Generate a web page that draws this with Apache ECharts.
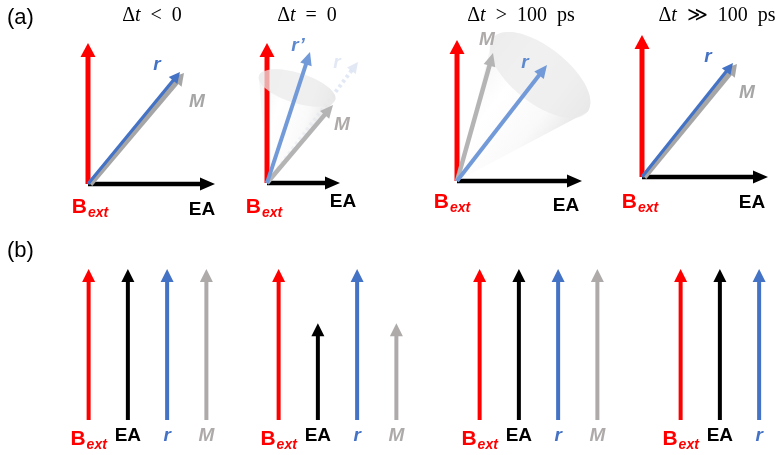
<!DOCTYPE html>
<html><head><meta charset="utf-8">
<script src="https://cdn.jsdelivr.net/npm/echarts@6/dist/echarts.min.js"></script>
<style>html,body{margin:0;padding:0;background:#fff}#c{width:777px;height:455px}</style>
</head><body><div id="c"></div>
<script>
// ---------------- data ----------------
// (a) vectors (x, y) in drawing units, one entry per panel
const panelTitles = ['Δt < 0', 'Δt = 0', 'Δt > 100 ps', 'Δt ≫ 100 ps'];
const bextVectors = [[0, 141], [0, 140], [0, 141], [0, 142]];
const eaVectors   = [[127, 0], [73, 0], [125, 0], [126, 0]];
const rVectors    = [[92, 112], [43, 131], [90, 116], [91, 114]];
const mVectors    = [[94, 111], [66, 78], [36, 128], [93, 113]];
const rInitialVectors = [null, [91, 121], null, null];
const coneAxes    = [null, [30, 95], [83, 106], null];
const coneRadii   = [null, [40, 15], [60, 28], null];
const rLabels     = ['r', 'r’', 'r', 'r'];

// (b) relative lengths of the projected arrows, one entry per group
const quantities  = ['Bext', 'EA', 'r', 'M'];
const bextLengths = [1, 1, 1, 1];
const eaLengths   = [1, 0.64, 1, 1];
const rLengths    = [1, 1, 1, 1];
const mLengths    = [1, 0.64, 1, 1];

// ---------------- layout & style ----------------
const FONT = '"Liberation Sans", Arial, sans-serif';
const SERIF = '"Liberation Serif", "DejaVu Serif", serif';
const RED = '#ff0000', BLACK = '#000000', BLUE = '#4472c4', GREY = '#a6a6a6', GREYB = '#aeaaaa';
const panelOrigins = [[88, 184], [267, 183], [457, 181], [642, 177]];
const mStartShift = [[2, 0], [0, 0], [0, 0], [2, 0]];
const titleCenters = [[152, 16], [307, 16], [521, 16], [717, 16]];
const labelOff = [
  { r: [-23, -7], m: [13, 29], bext: [2, 23], ea: [-13, 26] },
  { r: [-12, -6], m: [9, 20], bext: [-3, 24], ea: [3, 19], r0: [-21, 1] },
  { r: [-22, -2], m: [-6, -13], bext: [-5, 21], ea: [-16, 25] },
  { r: [-25, -6], m: [10, 29], bext: [-2, 25], ea: [-16, 26] }
];
const bGroupLeft = [69, 259, 460, 661];

const K = { ea: 0, bext: 1, r: 2, m: 3, r0: 4, body: 5, top: 6 };

function richSet(key) {
  const s = (c, size, bold, italic, extra) => Object.assign({ [key]: c, fontSize: size,
    fontWeight: bold ? 'bold' : 'normal', fontStyle: italic ? 'italic' : 'normal', fontFamily: FONT }, extra || {});
  return {
    b:  s(RED, 21, true, false),
    bs: s(RED, 14, true, true, { padding: [12, 0, 0, 1] }),
    ea: s(BLACK, 19, true, false),
    r:  s(BLUE, 19, true, true),
    rs: s('#5f89cf', 19, true, true),
    rl: s('#e3e9f4', 19, true, true),
    m:  s(GREY, 19, true, true),
    mb: s(GREYB, 19, true, true)
  };
}
const richAxis = richSet('color');
const richGfx = richSet('fill');

function arrow(p0, p1, o) {
  const dx = p1[0] - p0[0], dy = p1[1] - p0[1];
  const L = Math.hypot(dx, dy) || 1;
  const ux = dx / L, uy = dy / L, px = -uy, py = ux;
  const hl = o.headLen, hw = o.headW / 2;
  const bx = p1[0] - ux * hl, by = p1[1] - uy * hl;
  const op = o.opacity == null ? 1 : o.opacity;
  return [
    { type: 'line', shape: { x1: p0[0], y1: p0[1], x2: bx + ux, y2: by + uy },
      style: { stroke: o.color, lineWidth: o.width, lineDash: o.dash || null, opacity: op } },
    { type: 'polygon', shape: { points: [[p1[0], p1[1]], [bx + px * hw, by + py * hw], [bx - px * hw, by - py * hw]] },
      style: { fill: o.color, opacity: op } }
  ];
}

function label(pt, off, text) {
  return { type: 'text', x: pt[0] + off[0], y: pt[1] + off[1],
    style: { text: text, rich: richGfx, align: 'center', verticalAlign: 'middle' } };
}

function panelData(i) {
  const it = [];
  const ea = eaVectors[i], bx = bextVectors[i], r = rVectors[i], m = mVectors[i], s = mStartShift[i];
  it.push([0, 0, ea[0], ea[1], K.ea, 0, 0]);
  if (rInitialVectors[i]) it.push([0, 0, rInitialVectors[i][0], rInitialVectors[i][1], K.r0, 0, 0]);
  const c = coneAxes[i];
  if (c) {
    const rad = coneRadii[i];
    if (i === 1) {
      it.push([0, 0, c[0], c[1], K.body, rad[0], rad[1]]);
      it.push([0, 0, bx[0], bx[1], K.bext, 0, 0]);
    } else {
      it.push([0, 0, bx[0], bx[1], K.bext, 0, 0]);
      it.push([0, 0, c[0], c[1], K.body, rad[0], rad[1]]);
    }
    it.push([0, 0, c[0], c[1], K.top, rad[0], rad[1]]);
  } else {
    it.push([0, 0, bx[0], bx[1], K.bext, 0, 0]);
  }
  it.push([s[0], s[1], s[0] + m[0], s[1] + m[1], K.m, 0, 0]);
  it.push([0, 0, r[0], r[1], K.r, 0, 0]);
  return it;
}

function makePanelRender(i) {
  const soft = (i === 1 || i === 2);
  return function (params, api) {
    const kind = api.value(4);
    const p0 = api.coord([api.value(0), api.value(1)]);
    const p1 = api.coord([api.value(2), api.value(3)]);
    const off = labelOff[i];
    let ch = [];
    if (kind === K.ea) {
      ch = arrow(p0, p1, { color: BLACK, width: 4.5, headLen: 15, headW: 13 });
      ch.push(label(p1, off.ea, '{ea|EA}'));
    } else if (kind === K.bext) {
      ch = arrow(p0, p1, { color: RED, width: 5, headLen: 14, headW: 15 });
      ch.push(label(p0, off.bext, '{b|B}{bs|ext}'));
    } else if (kind === K.r) {
      ch = arrow(p0, p1, soft ? { color: '#729ad8', width: 4, headLen: 13, headW: 12 }
                              : { color: BLUE, width: 3.2, headLen: 11, headW: 11 });
      ch.push(label(p1, off.r, (soft ? '{rs|' : '{r|') + rLabels[i] + '}'));
    } else if (kind === K.m) {
      ch = arrow(p0, p1, soft ? { color: '#b4b4b4', width: 4.5, headLen: 13, headW: 12 }
                              : { color: GREY, width: 6, headLen: 12, headW: 14 });
      ch.push(label(p1, off.m, soft ? '{mb|M}' : '{m|M}'));
    } else if (kind === K.r0) {
      ch = arrow(p0, p1, { color: '#d6e0f1', width: 4, headLen: 11, headW: 11, dash: [3, 3], opacity: 0.7 });
      ch.push(label(p1, off.r0, '{rl|r}'));
    } else {
      const sz = api.size([1, 1]);
      const a = api.value(5) * sz[0], b = api.value(6) * sz[0];
      const dx = p1[0] - p0[0], dy = p1[1] - p0[1], L = Math.hypot(dx, dy);
      const ux = dx / L, uy = dy / L, vx = -uy, vy = ux;
      const E = t => [p1[0] + vx * a * Math.cos(t) + ux * b * Math.sin(t), p1[1] + vy * a * Math.cos(t) + uy * b * Math.sin(t)];
      if (kind === K.body) {
        const pts = [[p0[0], p0[1]]];
        for (let k = 0; k <= 40; k++) pts.push(E(Math.PI * k / 40));
        const e1 = E(0), e2 = E(Math.PI);
        ch.push({ type: 'polygon', shape: { points: pts }, style: {
          fill: { type: 'linear', x: e2[0], y: e2[1], x2: e1[0], y2: e1[1], global: true,
            colorStops: [{ offset: 0, color: 'rgba(236,236,236,0.65)' }, { offset: 0.35, color: 'rgba(255,255,255,0.5)' },
                         { offset: 0.72, color: 'rgba(246,246,246,0.6)' }, { offset: 1, color: 'rgba(222,222,222,0.8)' }] } } });
      } else {
        const pts = [];
        for (let k = 0; k < 60; k++) pts.push(E(2 * Math.PI * k / 60));
        ch.push({ type: 'polygon', shape: { points: pts }, style: { fill: 'rgba(234,234,234,0.72)' } });
      }
    }
    return { type: 'group', children: ch };
  };
}

const bColors = [RED, BLACK, BLUE, GREYB];
function bRender(params, api) {
  const j = api.value(0);
  const p0 = api.coord([j, 0]);
  const p1 = api.coord([j, api.value(1)]);
  return { type: 'group', children: arrow(p0, p1, { color: bColors[j], width: 4, headLen: 13, headW: 13 }) };
}

const bLabelFmt = { Bext: '{b|B}{bs|ext}', EA: '{ea|EA}', r: '{r|r}', M: '{mb|M}' };

const grids = [], xAxes = [], yAxes = [], series = [];
panelOrigins.forEach((o, i) => {
  grids.push({ left: o[0], top: o[1] - 150, width: 150, height: 150, outerBoundsMode: 'none', containLabel: false });
  xAxes.push({ type: 'value', gridIndex: i, min: 0, max: 150, show: false });
  yAxes.push({ type: 'value', gridIndex: i, min: 0, max: 150, show: false });
  series.push({ type: 'custom', xAxisIndex: i, yAxisIndex: i, renderItem: makePanelRender(i),
    data: panelData(i), silent: true, clip: false });
});
bGroupLeft.forEach((l, g) => {
  const gi = 4 + g;
  grids.push({ left: l, top: 269, width: 157, height: 151, outerBoundsMode: 'none', containLabel: false });
  xAxes.push({ type: 'category', gridIndex: gi, data: quantities,
    axisLine: { show: false }, axisTick: { show: false }, splitLine: { show: false },
    axisLabel: { margin: 6, interval: 0, hideOverlap: false, formatter: v => bLabelFmt[v], rich: richAxis } });
  yAxes.push({ type: 'value', gridIndex: gi, min: 0, max: 1, show: false });
  const lens = [bextLengths[g], eaLengths[g], rLengths[g], mLengths[g]];
  series.push({ type: 'custom', xAxisIndex: gi, yAxisIndex: gi, renderItem: bRender,
    data: quantities.map((q, j) => [j, lens[j]]), silent: true, clip: false });
});

const titleRich = {
  d: { fontFamily: SERIF, fontSize: 20, fill: '#000' },
  t: { fontFamily: SERIF, fontSize: 20, fontStyle: 'italic', fill: '#000' },
  n: { fontFamily: SERIF, fontSize: 20, fill: '#000' }
};
const graphics = panelTitles.map((t, i) => {
  const rest = t.slice(2).replace(/ /g, '\u2002');
  return { type: 'text', x: titleCenters[i][0], y: titleCenters[i][1],
    style: { text: '{d|Δ}{t|t}{n|' + rest + '}', rich: titleRich, align: 'center', verticalAlign: 'middle' } };
});
graphics.push({ type: 'text', x: 7, y: 18, style: { text: '(a)', font: '22px ' + FONT, fill: '#000', verticalAlign: 'middle' } });
graphics.push({ type: 'text', x: 7, y: 251, style: { text: '(b)', font: '22px ' + FONT, fill: '#000', verticalAlign: 'middle' } });

const chart = echarts.init(document.getElementById('c'), null, { renderer: 'canvas' });
chart.setOption({
  animation: false,
  backgroundColor: '#ffffff',
  grid: grids, xAxis: xAxes, yAxis: yAxes, series: series, graphic: graphics
});
</script></body></html>
